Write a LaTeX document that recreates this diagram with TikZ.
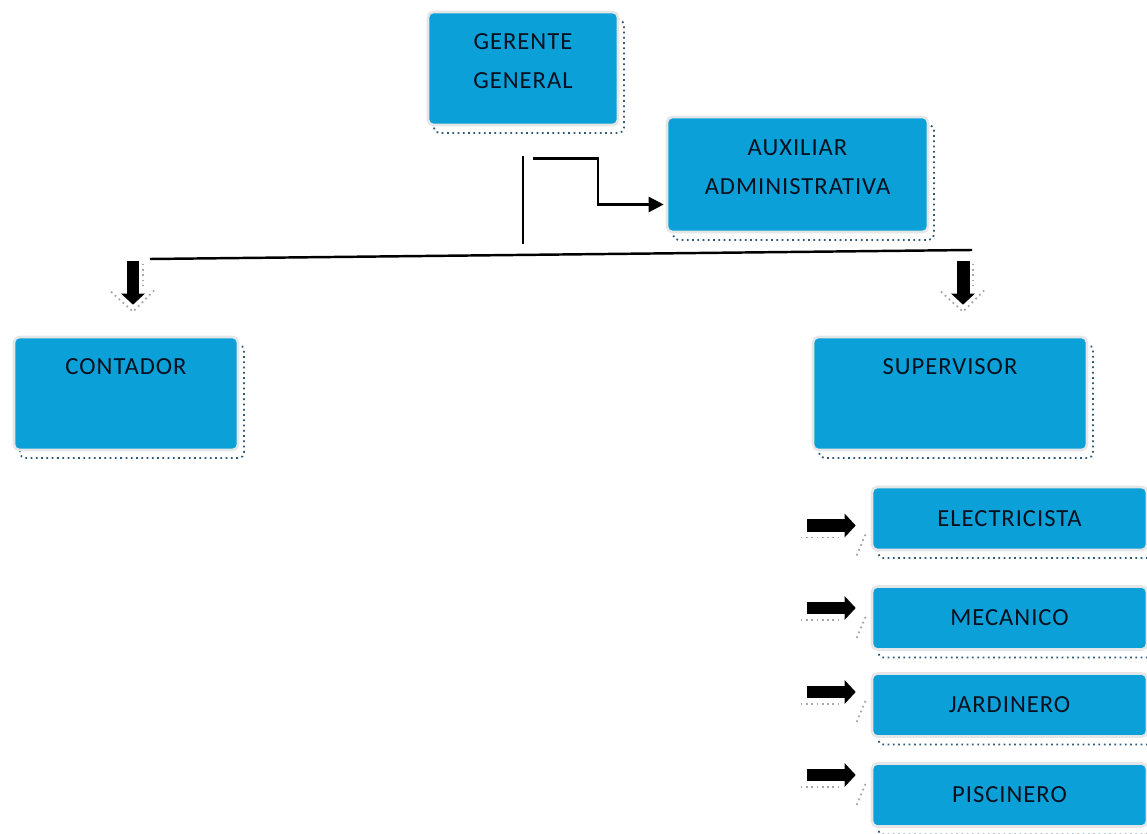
\documentclass[tikz,border=0pt]{standalone}
\usepackage{fontspec}
\newfontfamily\boxfont[LetterSpace=4]{Carlito}
\usetikzlibrary{arrows.meta,calc}
\definecolor{cBox}{HTML}{0BA0D8}
\definecolor{cRim}{HTML}{E4E6E8}
\definecolor{cShade}{HTML}{2E5A78}
\definecolor{cText}{HTML}{07111F}
\tikzset{
  box/.style  = {rectangle, rounded corners=3pt, fill=cBox, draw=cRim, line width=1.5pt,
                 text=cText, font=\boxfont\fontsize{14}{22}\selectfont, align=center, inner sep=0pt,
                 preaction={draw=cShade, dotted, line width=1pt,
                            transform canvas={shift={(0.12cm,-0.16cm)}}}},
  bigb/.style = {box, minimum height=2.26cm, text depth=0.3cm},
  smlb/.style = {box, minimum width=5.5cm, minimum height=1.26cm},
  ln/.style   = {draw=black, line width=1.4pt},
  lna/.style  = {ln, -{Triangle[length=0.3cm,width=0.3cm]}},
  blk/.style  = {draw=black, line width=0.26cm, -{Triangle[length=0.22cm,width=0.46cm]}},
  shd/.style  = {draw=gray!70, dotted, line width=1pt},
}
\begin{document}
\begin{tikzpicture}[x=0.02cm, y=-0.02cm]
  \useasboundingbox[fill=white] (0,0) rectangle (1147,834);

  % ---- boxes ----
  \node[bigb, minimum width=3.8cm]  (gg) at (523,68.5)  {GERENTE\\GENERAL};
  \node[bigb, minimum width=5.22cm, minimum height=2.3cm] (aux) at (797.5,174.5) {AUXILIAR\\ADMINISTRATIVA};
  \node[bigb, minimum width=4.48cm] (ct) at (126,393.5) {CONTADOR\\~};
  \node[bigb, minimum width=5.48cm] (sv) at (950,393.5) {SUPERVISOR\\~};
  \node[smlb] (el) at (1009.5,518.5) {ELECTRICISTA};
  \node[smlb] (me) at (1009.5,618)   {MECANICO};
  \node[smlb] (ja) at (1009.5,705)   {JARDINERO};
  \node[smlb] (pi) at (1009.5,795)   {PISCINERO};

  % ---- lines ----
  \coordinate (stem) at ($(gg.south)+(0,118)$);
  \coordinate (barl) at (150,259);
  \coordinate (barr) at (972,250);
  \draw[ln] ($(gg.south)+(0,30)$) -- (stem);
  \draw[lna] ($(gg.south)+(10,32)$) -- ++(65,0) |- ($(aux.west)+(-2,30)$);
  \draw[ln] (barl) -- (barr);

  % ---- block arrows (with dotted shade) ----
  \foreach \n/\dx in {ct/7, sv/13} {
    \draw[shd] ($(\n.north)+(\dx+10,-72)$) -- ($(\n.north)+(\dx+10,-50)$);
    \draw[shd] ($(\n.north)+(\dx-22,-44)$) -- ($(\n.north)+(\dx,-24)$) -- ($(\n.north)+(\dx+22,-46)$);
    \draw[blk] ($(\n.north)+(\dx,-75)$) -- ($(\n.north)+(\dx,-31)$);
  }
  \foreach \n/\dy in {el/7, me/-10, ja/-13, pi/-20} {
    \draw[shd] ($(\n.west)+(-70,\dy+12)$) -- ($(\n.west)+(-28,\dy+12)$);
    \draw[shd] ($(\n.west)+(-14,\dy+30)$) -- ($(\n.west)+(-4,\dy+6)$);
    \draw[blk] ($(\n.west)+(-64,\dy)$) -- ($(\n.west)+(-15,\dy)$);
  }
\end{tikzpicture}
\end{document}
